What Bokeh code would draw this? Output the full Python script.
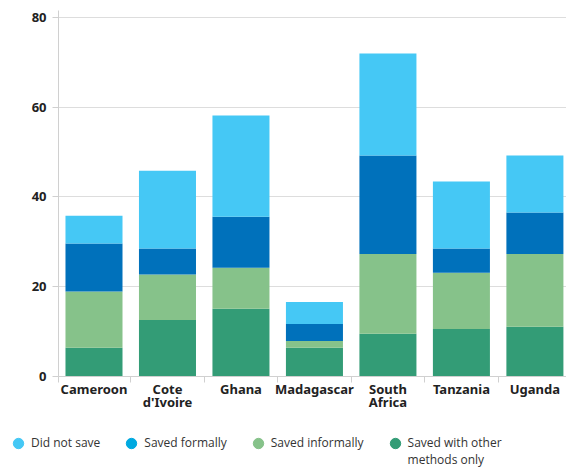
from bokeh.plotting import figure
from bokeh.layouts import column
from bokeh.models import ColumnDataSource, Range1d, FixedTicker, Legend, LegendItem
from bokeh.embed import file_html
from bokeh.resources import INLINE

countries = ["Cameroon", "Cote\nd'Ivoire", "Ghana", "Madagascar", "South\nAfrica", "Tanzania", "Uganda"]
other_only = [6.4, 12.6, 15.1, 6.4, 9.5, 10.6, 11.1]
informally = [12.5, 10.1, 9.1, 1.5, 17.8, 12.5, 16.2]
formally = [10.7, 5.8, 11.4, 3.8, 21.9, 5.4, 9.2]
not_save = [6.2, 17.3, 22.5, 4.9, 22.7, 14.9, 12.7]
series_names = ["Did not save", "Saved formally", "Saved informally", "Saved with other\nmethods only"]
y_ticks = [0, 20, 40, 60, 80]

bar_colors = ["#339C76", "#86C28A", "#0071BB", "#45C8F5"]
legend_colors = ["#45C8F5", "#00A9E0", "#86C28A", "#339C76"]

xs = list(range(len(countries)))
src = ColumnDataSource(dict(x=xs, other=other_only, informal=informally,
                            formal=formally, notsave=not_save))

p = figure(width=566, height=414, output_backend="svg", toolbar_location=None,
           x_range=Range1d(-0.483, 6.43), y_range=Range1d(0, 81.5),
           min_border_left=58, min_border_right=0, min_border_top=10,
           min_border_bottom=38)
p.outline_line_color = None
p.background_fill_color = "white"

p.vbar_stack(["other", "informal", "formal", "notsave"], x="x", width=0.776,
             color=bar_colors, line_color=None, source=src)

# Y axis
yaxis = p.yaxis[0]
yaxis.ticker = FixedTicker(ticks=y_ticks, minor_ticks=[])
yaxis.axis_line_color = "#d0d0d0"
yaxis.major_tick_line_color = "#d0d0d0"
yaxis.major_tick_out = 6
yaxis.major_tick_in = 0
yaxis.major_label_standoff = 6
yaxis.major_label_text_font = "Noto Sans"
yaxis.major_label_text_font_style = "bold"
yaxis.major_label_text_font_size = "13px"
yaxis.major_label_text_color = "#222222"

# X axis
xaxis = p.xaxis[0]
xaxis.ticker = FixedTicker(ticks=xs, minor_ticks=[-0.48] + [i + 0.5 for i in xs[:-1]])
xaxis.major_label_overrides = {i: c for i, c in zip(xs, countries)}
xaxis.axis_line_color = "#d0d0d0"
xaxis.major_tick_out = 0
xaxis.major_tick_in = 0
xaxis.minor_tick_out = 6
xaxis.minor_tick_in = 0
xaxis.minor_tick_line_color = "#d0d0d0"
xaxis.major_label_standoff = -3
xaxis.major_label_text_font = "Noto Sans"
xaxis.major_label_text_font_style = "bold"
xaxis.major_label_text_font_size = "13px"
xaxis.major_label_text_color = "#222222"
xaxis.major_label_text_line_height = 0.75

p.xgrid.grid_line_color = None
p.ygrid.grid_line_color = "#dddddd"
p.ygrid.ticker = FixedTicker(ticks=y_ticks[1:])

# legend figure
lf = figure(width=566, height=54, output_backend="svg", toolbar_location=None,
            x_range=Range1d(0, 1), y_range=Range1d(0, 1),
            x_axis_type=None, y_axis_type=None,
            min_border=0, min_border_left=0, min_border_right=0,
            min_border_top=0, min_border_bottom=0)
if "frame_align" in lf.properties():
    lf.frame_align = False
lf.grid.visible = False
lf.outline_line_color = None
rends = []
for col in legend_colors:
    rends.append(lf.scatter(x=[-10], y=[-10], size=10, color=col, marker="circle"))

labels = series_names[:3] + ["\n" + series_names[3]]
legend = Legend(items=[LegendItem(label=n, renderers=[r]) for n, r in zip(labels, rends)],
                orientation="horizontal", location=(5, 0),
                glyph_width=26, glyph_height=26, label_standoff=0, spacing=18,
                padding=0, margin=0, border_line_color=None,
                label_text_font="Open Sans", label_text_font_size="12px",
                label_text_color="#333333", background_fill_alpha=0)
lf.add_layout(legend, "center")

layout = column(p, lf, spacing=0)
open("out.html", "w").write(file_html(layout, INLINE))
